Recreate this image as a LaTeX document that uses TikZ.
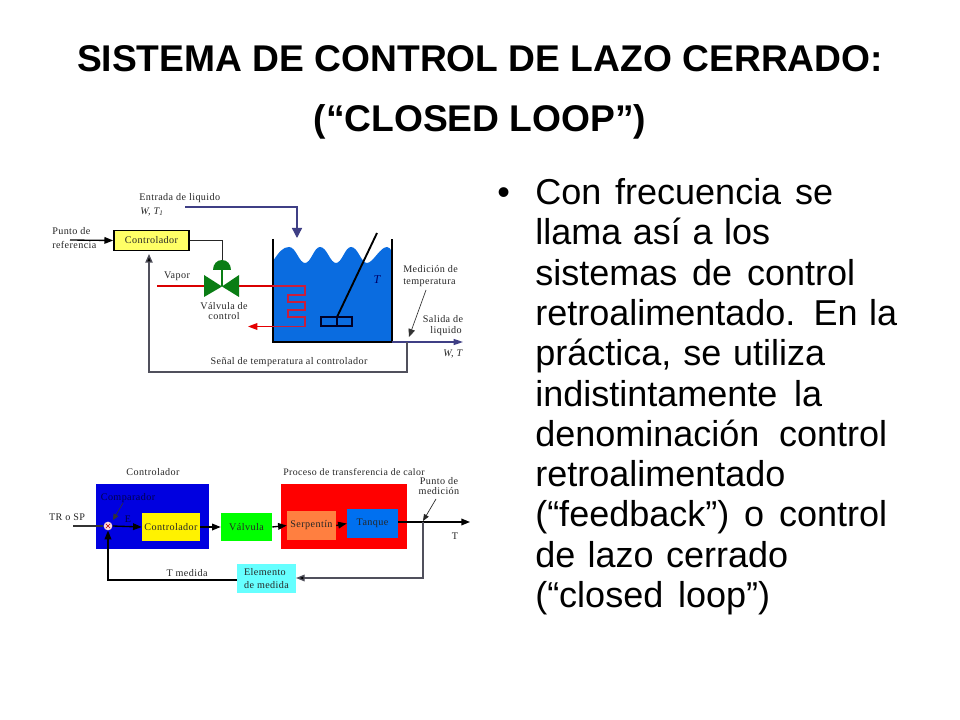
\documentclass[tikz,border=0pt]{standalone}
\usepackage{fontspec}
\setmainfont{Liberation Sans}
\newfontfamily\labfont[LetterSpace=4]{Liberation Serif}
\usetikzlibrary{arrows.meta}
\definecolor{pipeblue}{HTML}{3F3F85}
\definecolor{water}{HTML}{0A6CE0}
\definecolor{valvegreen}{HTML}{0A7D14}
\definecolor{ctrlyellow}{HTML}{FFFF66}
\definecolor{signalgray}{HTML}{50505C}
\definecolor{coilred}{HTML}{C81E3C}
\definecolor{blockblue}{HTML}{0000E0}
\definecolor{serp}{HTML}{FF7F40}
\definecolor{tanq}{HTML}{0070F0}
\definecolor{elem}{HTML}{66FFFF}
\tikzset{
  lab/.style={font=\labfont\fontsize{7.6}{9}\selectfont,inner sep=0pt,text=black!85},
  titletext/.style={font=\bfseries\fontsize{27.9}{32}\selectfont,inner sep=0pt,anchor=base},
  bodyline/.style={font=\fontsize{27}{32}\selectfont,inner sep=0pt,anchor=base west},
  sig/.style={line width=1pt,black,-{Triangle[length=6.5pt,width=5pt]}},
  sigplain/.style={line width=1pt,black!80},
  graysig/.style={line width=1pt,signalgray},
}
\newlength\pxu
\setlength\pxu{0.75pt}
\newcommand{\bodytext}[4]{\node[bodyline] (#1) at (535,#2) {\makebox[#3\pxu][s]{#4}};}
\begin{document}
\begin{tikzpicture}[x=0.75pt,y=-0.75pt]
\useasboundingbox (0,0) rectangle (960,720);
\fill[white] (0,0) rectangle (960,720);
% title
\node[titletext] (t1) at (480,71.5) {SISTEMA DE CONTROL DE LAZO CERRADO:};
\node[titletext] (t2) at (480,132) {(“CLOSED LOOP”)};
% body
\node[bodyline] (bul) at (497,205) {•};
\bodytext{b1}{204.5}{298}{Con frecuencia se}
\bodytext{b2}{244.8}{235}{llama así a los}
\bodytext{b3}{285.1}{320}{sistemas de control}
\bodytext{b4}{325.4}{362}{retroalimentado. En la}
\bodytext{b5}{365.7}{290}{práctica, se utiliza}
\bodytext{b6}{406}{287}{indistintamente la}
\bodytext{b7}{446.3}{352}{denominación control}
\node[bodyline] (b8) at (535,486.6) {retroalimentado};
\bodytext{b9}{526.9}{352}{(“feedback”) o control}
\bodytext{b10}{567.2}{253}{de lazo cerrado}
\bodytext{b11}{607.5}{235}{(“closed loop”)}

% ---------- upper diagram: tank
\fill[water] (273,342) -- (273,261) .. controls (279,252) and (283,247) .. (289,247)
  .. controls (296,247) and (299,263) .. (305,263)
  .. controls (311,263) and (314,247) .. (320,247)
  .. controls (327,247) and (330,263) .. (336,263)
  .. controls (342,263) and (345,247) .. (351,247)
  .. controls (358,247) and (361,263) .. (367,263)
  .. controls (373,263) and (380,247) .. (387,247)
  .. controls (389,247) and (391,249) .. (392,252) -- (392,342) -- cycle;
\draw[line width=1.3pt,black] (273,239) -- (273,342) -- (392,342) -- (392,239);
% stirrer
\coordinate (stirtop) at (377,233);
\coordinate (stirbot) at (337,317);
\draw[line width=1.4pt,black] (stirtop) -- (stirbot);
\draw[line width=0.9pt,black!85!blue] (321,317) rectangle (352,326);
\draw[line width=0.9pt,black!85!blue] (337,317) -- (337,326);
\node[text=black!60!blue,inner sep=0pt,font=\labfont\fontsize{9}{10}\selectfont\itshape] (tT) at (377,280) {T};
% coil
\coordinate (vaporin) at (157,286);
\coordinate (coiltop) at (273,286);
\coordinate (coilbot) at (273,326.5);
\coordinate (condout) at (248,326.5);
\draw[line width=1pt,coilred] (coiltop) -- (305,286) -- (305,295) -- (288,295) -- (288,302) -- (305,302) -- (305,310) -- (288,310) -- (288,317) -- (305,317) -- (305,326.5) -- (coilbot);
% valve
\coordinate (vc) at (222,286.5);
\draw[line width=1pt,red!85!black] (vaporin) -- (204,286);
\draw[line width=1pt,red!85!black] (239,286) -- (coiltop);
\draw[line width=1pt,red!90!black,-{Triangle[length=7pt,width=5pt]}] (coilbot) -- (condout);
\fill[valvegreen] (204,275) -- (vc) -- (204,297) -- cycle;
\fill[valvegreen] (239,275) -- (vc) -- (239,297) -- cycle;
\draw[line width=1.3pt,valvegreen] (222,269) -- (vc);
\fill[valvegreen] (213,270) .. controls (213,264) and (217,260) .. (222,260) .. controls (227,260) and (231,264) .. (231,270) -- cycle;
% controller
\node[draw=black,line width=1.3pt,fill=ctrlyellow,minimum width=75\pxu,minimum height=20\pxu,inner sep=0pt,lab] (ctrl) at (151.5,240.5) {Controlador};
\coordinate (valvetop) at (222,260);
\draw[line width=0.7pt,black!85] (ctrl.east) -- (222,240.5) -- (valvetop);
\coordinate (spin) at (70,240);
\draw[sig] (spin) -- (ctrl.west);
% inlet
\coordinate (inletstart) at (185,207);
\coordinate (inletend) at (297,238);
\draw[line width=1pt,pipeblue,-{Triangle[length=7.5pt,width=7.5pt]}] (inletstart) -- (297,207) -- (inletend);
% outlet
\coordinate (outstart) at (392,342);
\coordinate (outend) at (463,342);
\draw[line width=1pt,pipeblue,-{Triangle[length=7pt,width=4.5pt]}] (outstart) -- (outend);
% measurement
\coordinate (mpt) at (407,342);
\coordinate (mtop) at (426,290);
\draw[line width=0.5pt,black!80,-{Triangle[length=6pt,width=5pt]}] (mtop) -- (409,337);
\draw[graysig,-{Triangle[length=6.5pt,width=5.5pt,fill=black]}] (mpt) -- (407,372) -- (149,372) -- (149,254) ;
% labels
\node[lab,anchor=west] (l1) at (139,198) {Entrada de liquido};
\node[lab,anchor=west] (l2) at (140,212) {\itshape W, T\textsubscript{1}};
\node[lab,anchor=west] (l3) at (52,231) {Punto de};
\node[lab,anchor=west] (l4) at (52,244.5) {referencia};
\node[lab] (l5) at (177,276) {Vapor};
\node[lab] (l6) at (224,306) {Válvula de};
\node[lab] (l7) at (224,316) {control};
\node[lab,anchor=west] (l8) at (403,269.5) {Medición de};
\node[lab,anchor=west] (l9) at (403,283) {temperatura};
\node[lab] (l10) at (443,319) {Salida de};
\node[lab] (l11) at (446,331) {liquido};
\node[lab,anchor=west] (l12) at (443,354) {\itshape W, T};
\node[lab] (l13) at (289,362) {Señal de temperatura al controlador};

% ---------- lower diagram
\fill[blockblue] (96,484) rectangle (209,549);
\fill[red] (281,484) rectangle (407,549);
\node[fill=yellow,minimum width=58\pxu,minimum height=28\pxu,inner sep=0pt,lab] (cc) at (171,527) {Controlador};
\node[fill=green,minimum width=51\pxu,minimum height=28\pxu,inner sep=0pt,lab] (vv) at (246.5,527) {Válvula};
\node[fill=serp,minimum width=49\pxu,minimum height=29\pxu,inner sep=0pt,lab] (ss) at (311.5,525.5) {Serpentín};
\node[fill=tanq,minimum width=51\pxu,minimum height=29\pxu,inner sep=0pt,lab] (tq) at (372.5,523.5) {Tanque};
\node[fill=elem,minimum width=59\pxu,minimum height=29\pxu,inner sep=0pt,lab,align=left] (ee) at (266.5,578.5) {Elemento\\[1pt]de medida};
\node[circle,fill=red!15,minimum size=6.5pt,inner sep=0pt] (sum) at (108,526) {};
\draw[red!70!black,line width=0.5pt] (105.8,523.8) -- (110.2,528.2) (110.2,523.8) -- (105.8,528.2);
\coordinate (tin) at (73,526);
\coordinate (tout) at (470,522);
\coordinate (mp) at (423,522);
\coordinate (fbturn) at (108,580);
\coordinate (eleft) at (237,580);
\draw[sigplain] (tin) -- (sum.west);
\draw[sig] (sum.east) -- (cc.west);
\draw[sig] (cc.east) -- (vv.west);
\draw[sig] (vv.east) -- (ss.west);
\draw[sig] (ss.east) -- (tq.west);
\draw[sig] (tq.east |- tout) -- (tout);
\draw[graysig,-{Triangle[length=6.5pt,width=5pt,fill=black]}] (mp) -- (423,578) -- (296,578);
\draw[sig] (eleft) -- (fbturn) -- (sum.south);
\coordinate (cmpA) at (123,503);
\draw[line width=0.5pt,black!80,-{Triangle[length=4.5pt,width=4pt]}] (cmpA) -- (113,520);
\coordinate (ptA) at (436,499);
\draw[line width=0.5pt,black!85,-{Triangle[length=5pt,width=4pt]}] (ptA) -- (423,521);
\node[lab] (m1) at (153,472) {Controlador};
\node[lab,font=\labfont\fontsize{7.4}{9}\selectfont] (m2) at (354,472) {Proceso de transferencia de calor};
\node[lab] (m3) at (439,481) {Punto de};
\node[lab] (m4) at (439,491) {medición};
\node[lab,text=black!70!blue] (m5) at (128,498) {Comparador};
\node[lab,text=black!70!blue] (m6) at (128,519) {E};
\node[lab] (m7) at (67,517) {TR o SP};
\node[lab] (m8) at (187,573) {T medida};
\node[lab] (m9) at (455,536) {T};
\end{tikzpicture}
\end{document}
